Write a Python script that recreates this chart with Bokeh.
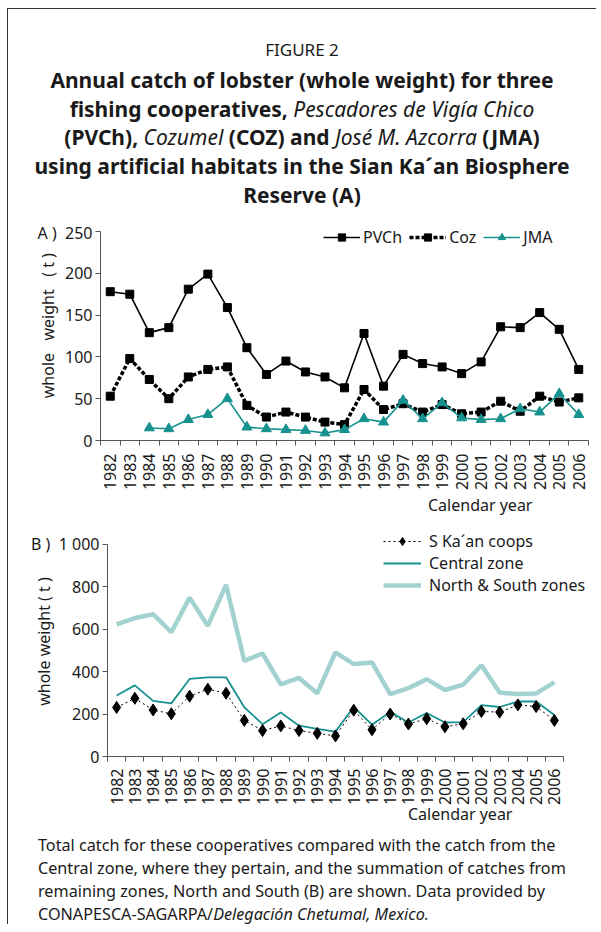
import math
from bokeh.plotting import figure
from bokeh.models import FixedTicker, Legend, LegendItem, Div, Range1d
from bokeh.layouts import column
from bokeh.embed import file_html
from bokeh.resources import INLINE

NaN = float("nan")

# ---- data -------------------------------------------------------------
years = list(range(1982, 2007))
year_labels = [str(y) for y in years]

# Panel A: annual catch (t) per cooperative
pvch = [178, 175, 129, 135, 181, 199, 159, 111, 79, 95, 82, 76, 63, 128, 65,
        103, 92, 88, 80, 94, 136, 135, 153, 133, 85]
coz = [53, 98, 73, 50, 76, 85, 88, 42, 28, 34, 28, 22, 19, 61, 37,
       44, 34, 43, 32, 34, 47, 35, 53, 46, 51]
jma = [NaN, NaN, 15, 14, 25, 31, 50, 16, 14, 13, 12, 9, 13, 26, 22,
       48, 26, 45, 27, 25, 26, 38, 34, 56, 31]

# Panel B: catch (t) by zone
skaan = [231, 274, 219, 201, 284, 317, 298, 170, 122, 144, 122, 109, 97, 218, 126,
         200, 153, 178, 140, 154, 212, 209, 243, 235, 170]
central = [287, 335, 262, 250, 365, 373, 373, 232, 152, 207, 145, 130, 117, 233, 150,
           210, 160, 205, 160, 162, 242, 233, 259, 259, 195]
northsouth = [622, 652, 670, 585, 748, 615, 808, 450, 485, 340, 370, 298, 490, 435, 443,
              294, 322, 364, 313, 338, 430, 301, 294, 297, 349]

ticks_a = [0, 50, 100, 150, 200, 250]
ticks_b = [0, 200, 400, 600, 800, 1000]
NB = "\u00a0"
tick_labels_a = {250: "A )" + NB * 2 + "250"}
tick_labels_b = {1000: "B )" + NB * 2 + "1 000"}
ylabel_a = NB * 4 + "whole" + NB * 2 + " weight" + NB * 2 + " ( t )"
ylabel_b = "whole weight ( t )"
xlabel = "Calendar year"

# ---- style ------------------------------------------------------------
FONT = "Noto Sans"
TXT = "#1a1a1a"
AXC = "#555555"
TEAL = "#17928f"
LTEAL = "#a2d2d0"
W = 588


def style(p, yticks, ymax, ylabel, overrides, label_standoff, x_standoff):
    p.outline_line_color = None
    p.xgrid.visible = False
    p.ygrid.visible = False
    p.background_fill_color = None
    p.border_fill_color = None
    try:
        p.frame_align = False
    except Exception:
        pass
    for ax in (p.xaxis[0], p.yaxis[0]):
        ax.axis_line_color = AXC
        ax.major_tick_line_color = AXC
        ax.minor_tick_line_color = AXC
        ax.major_label_text_font = FONT
        ax.major_label_text_font_size = "16px"
        ax.major_label_text_color = TXT
        ax.axis_label_text_font = FONT
        ax.axis_label_text_font_size = "16px"
        ax.axis_label_text_font_style = "normal"
        ax.axis_label_text_color = TXT
    xa = p.xaxis[0]
    xa.ticker = FixedTicker(ticks=years, minor_ticks=[y - 0.5 for y in years] + [years[-1] + 0.5])
    xa.bounds = (years[0] - 0.5, years[-1] + 0.5)
    xa.major_label_overrides = {y: s for y, s in zip(years, year_labels)}
    xa.major_tick_out = 0
    xa.major_tick_in = 0
    xa.minor_tick_out = 5
    xa.minor_tick_in = 0
    xa.major_label_orientation = math.pi / 2
    xa.major_label_standoff = x_standoff
    ya = p.yaxis[0]
    ya.ticker = FixedTicker(ticks=yticks, minor_ticks=[])
    ya.bounds = (0, ymax)
    ya.major_label_overrides = overrides
    ya.major_tick_out = 5
    ya.major_tick_in = 0
    ya.minor_tick_out = 0
    ya.major_label_standoff = 3
    ya.axis_label = ylabel
    ya.axis_label_standoff = label_standoff


# ---- header -----------------------------------------------------------
header_html = (
    f"<div style=\"font-family:'{FONT}';color:{TXT};text-align:center;width:{W}px;padding-top:25px;\">"
    "<div style=\"font-size:17px;line-height:32px;\">FIGURE 2</div>"
    "<div style=\"font-size:21px;line-height:28.7px;font-weight:bold;\">"
    "Annual catch of lobster (whole weight) for three<br>"
    "fishing cooperatives, <i style=\"font-weight:normal\">Pescadores de Vigía Chico</i><br>"
    "(PVCh), <i style=\"font-weight:normal\">Cozumel</i> (COZ) and "
    "<i style=\"font-weight:normal\">José M. Azcorra</i> (JMA)<br>"
    "using artificial habitats in the Sian Ka´an Biosphere<br>"
    "Reserve (A)</div></div>"
)
header = Div(text=header_html, width=W, height=212, margin=0)

# ---- panel A ----------------------------------------------------------
p1 = figure(width=W, height=272, x_range=Range1d(1981.5, 2006.5), y_range=Range1d(0, 254.76),
            output_backend="svg", toolbar_location=None,
            min_border_left=92, min_border_right=8, min_border_top=6, min_border_bottom=52)
style(p1, ticks_a, 250, ylabel_a, tick_labels_a, -24, 8)

l1 = p1.line(years, pvch, color="black", line_width=1.6)
s1 = p1.scatter(years, pvch, marker="square", size=8, color="black")
l2 = p1.line(years, coz, color="black", line_width=3.5, line_dash="4 2")
s2 = p1.scatter(years, coz, marker="square", size=8, color="black")
l3 = p1.line(years, jma, color=TEAL, line_width=1.6)
s3 = p1.scatter(years, jma, marker="triangle", size=10, color=TEAL)

leg1 = Legend(items=[LegendItem(label="PVCh", renderers=[l1, s1]),
                     LegendItem(label="Coz", renderers=[l2, s2]),
                     LegendItem(label="JMA", renderers=[l3, s3])],
              orientation="horizontal", location=(223, 192),
              glyph_width=37, glyph_height=18, label_height=18, label_standoff=3, spacing=7,
              padding=0, margin=0, border_line_color=None, background_fill_alpha=0,
              label_text_font=FONT, label_text_font_size="16px", label_text_color=TXT)
p1.add_layout(leg1)

cal_a = Div(text=(f"<div style=\"font-family:'{FONT}';color:{TXT};font-size:16px;"
                  f"line-height:24px;padding-left:420px;\">{xlabel}</div>"),
            width=W, height=24, margin=0)

# ---- panel B ----------------------------------------------------------
p2 = figure(width=W, height=292, x_range=Range1d(1981.5, 2008.2), y_range=Range1d(0, 1082.9),
            output_backend="svg", toolbar_location=None,
            min_border_left=99, min_border_right=2, min_border_top=9, min_border_bottom=53)
style(p2, ticks_b, 1000, ylabel_b, tick_labels_b, -27, 7)

ns = p2.line(years, northsouth, color=LTEAL, line_width=4.5)
ce = p2.line(years, central, color=TEAL, line_width=1.8)
skl = p2.line(years, skaan, color="black", line_width=1, line_dash="2 3")
sks = p2.scatter(years, skaan, marker="diamond", size=12, color="black")

leg2 = Legend(items=[LegendItem(label="S Ka´an coops", renderers=[skl, sks]),
                     LegendItem(label="Central zone", renderers=[ce]),
                     LegendItem(label="North & South zones", renderers=[ns])],
              orientation="vertical", location=(276, 160),
              glyph_width=38, glyph_height=20, label_height=20, label_standoff=8, spacing=-2,
              padding=0, margin=0, border_line_color=None, background_fill_alpha=0,
              label_text_font=FONT, label_text_font_size="16px", label_text_color=TXT)
p2.add_layout(leg2)

# ---- x label of B + caption ------------------------------------------
caption_html = (
    f"<div style=\"font-family:'{FONT}';color:{TXT};\">"
    f"<div style=\"font-size:16px;line-height:10px;padding-left:400px;\">{xlabel}</div>"
    "<div style=\"font-size:16.2px;line-height:23px;margin-top:15px;padding-left:30px;\">"
    "Total catch for these cooperatives compared with the catch from the<br>"
    "Central zone, where they pertain, and the summation of catches from<br>"
    "remaining zones, North and South (B) are shown. Data provided by<br>"
    "CONAPESCA-SAGARPA/<i>Delegación Chetumal, Mexico.</i></div></div>"
)
caption = Div(text=caption_html, width=W, height=115, margin=0)

layout = column(header, p1, cal_a, p2, caption, spacing=0, margin=(8, 0, 0, 7),
                styles={"border-left": "1px solid #333", "border-top": "1px solid #333"})

open("out.html", "w").write(file_html(layout, INLINE))
